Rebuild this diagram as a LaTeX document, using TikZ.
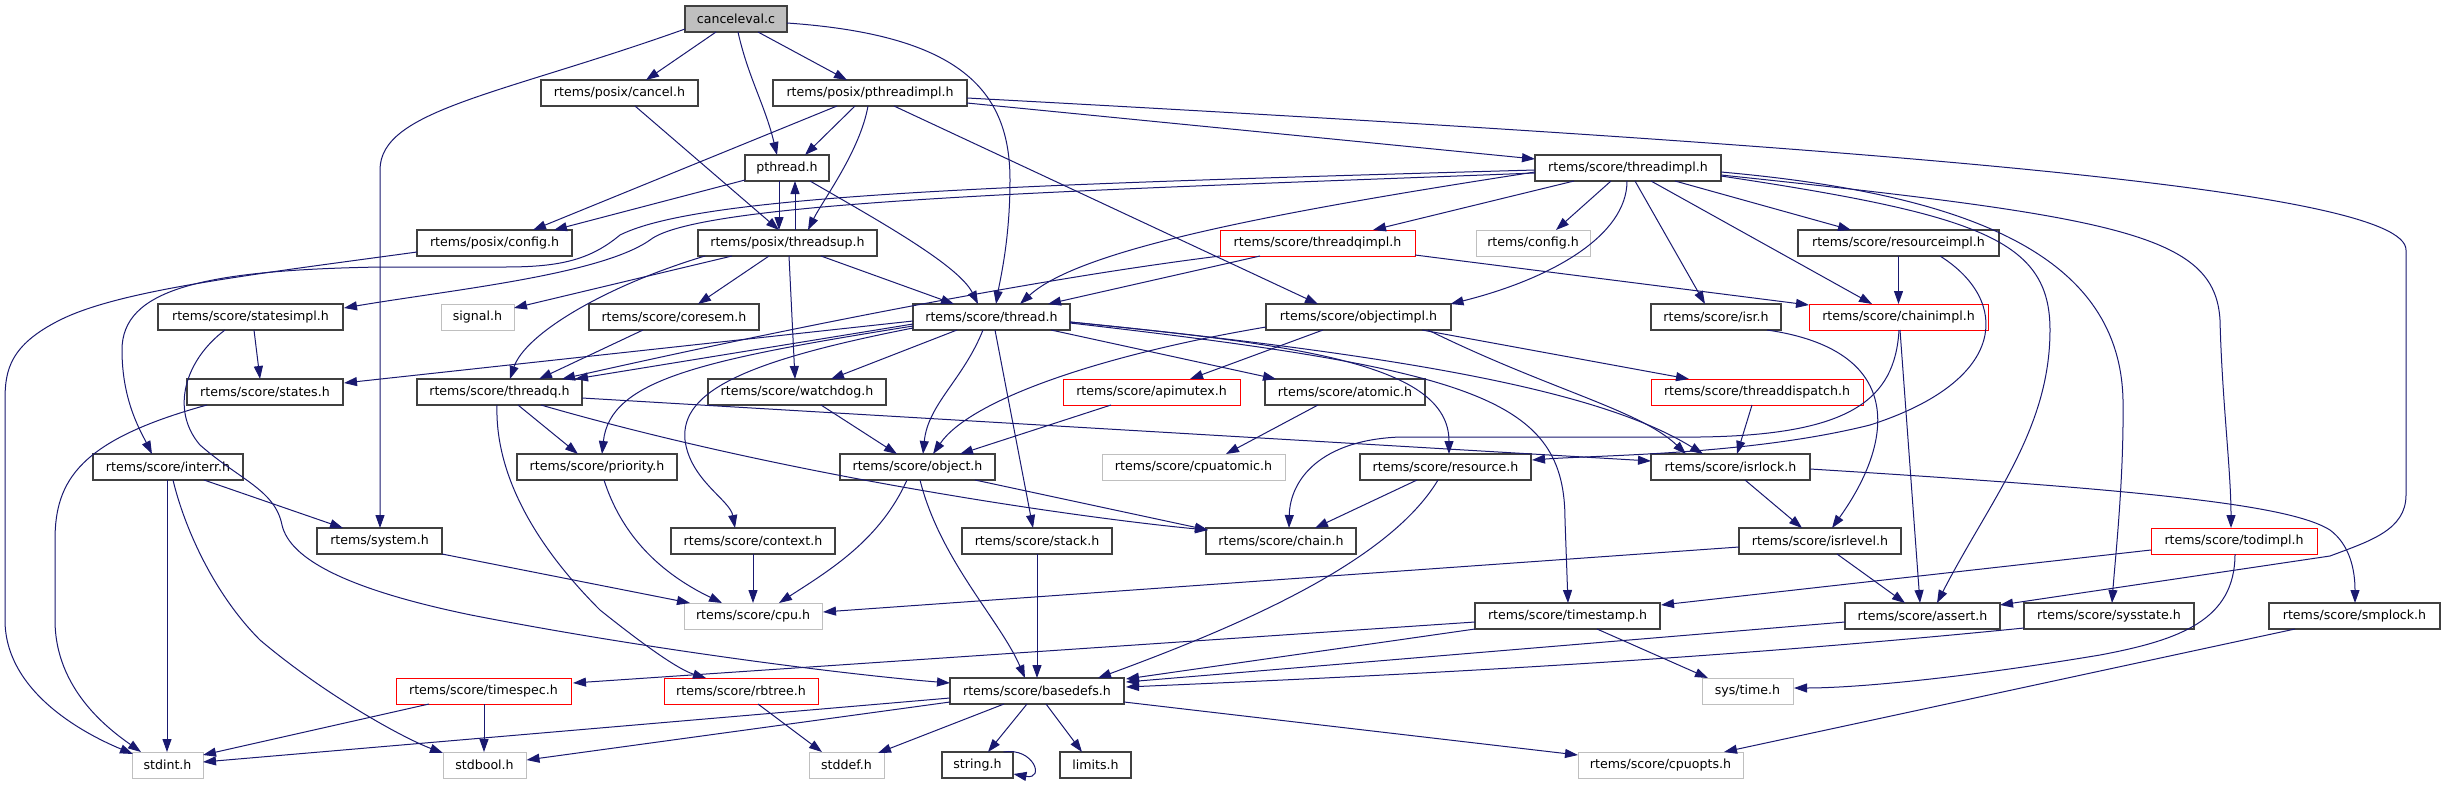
\documentclass[tikz,border=0pt]{standalone}
\usepackage{fontspec}
\setmainfont{DejaVu Sans}
\usetikzlibrary{arrows.meta,calc}
\definecolor{edgec}{HTML}{191970}
\definecolor{bord}{HTML}{404040}
\definecolor{graybd}{HTML}{BFBFBF}
\definecolor{redbd}{HTML}{FF0000}
\begin{document}
\begin{tikzpicture}[x=1pt,y=-1pt,
  font=\fontsize{12.6}{15}\selectfont,
  hdr/.style={draw=bord, line width=1.3pt, fill=white, minimum height=26pt, inner sep=0pt},
  sysh/.style={hdr, draw=graybd, line width=1pt},
  redh/.style={hdr, draw=redbd, line width=1pt},
  root/.style={hdr, fill=graybd},
  e/.style={draw=edgec, line width=1pt, -{Triangle[length=13pt,width=9pt]}}]
\fill[white] (0,0) rectangle (2445,785);
\useasboundingbox (0,0) rectangle (2445,785);
% nodes
\node[root, minimum width=102pt] (canceleval) at (736,19) {canceleval.c};
\node[hdr, minimum width=157pt] (cancel) at (619.5,93) {rtems/posix/cancel.h};
\node[hdr, minimum width=194pt] (pthreadimpl) at (870,93) {rtems/posix/pthreadimpl.h};
\node[hdr, minimum width=84pt] (pthread) at (787,168) {pthread.h};
\node[hdr, minimum width=186pt] (threadimpl) at (1628,168) {rtems/score/threadimpl.h};
\node[hdr, minimum width=155pt] (pconfig) at (494.5,243) {rtems/posix/config.h};
\node[hdr, minimum width=179pt] (threadsup) at (787.5,243) {rtems/posix/threadsup.h};
\node[redh, minimum width=195pt] (threadqimpl) at (1317.5,243) {rtems/score/threadqimpl.h};
\node[sysh, minimum width=114pt] (rconfig) at (1533,243) {rtems/config.h};
\node[hdr, minimum width=201pt] (resourceimpl) at (1898.5,243) {rtems/score/resourceimpl.h};
\node[hdr, minimum width=185pt] (statesimpl) at (250.5,317) {rtems/score/statesimpl.h};
\node[sysh, minimum width=73pt] (signal) at (477.5,317) {signal.h};
\node[hdr, minimum width=170pt] (coresem) at (674,317) {rtems/score/coresem.h};
\node[hdr, minimum width=157pt] (thread) at (991.5,317) {rtems/score/thread.h};
\node[hdr, minimum width=185pt] (objectimpl) at (1358.5,317) {rtems/score/objectimpl.h};
\node[hdr, minimum width=130pt] (isr) at (1716,317) {rtems/score/isr.h};
\node[redh, minimum width=179pt] (chainimpl) at (1898.5,317) {rtems/score/chainimpl.h};
\node[hdr, minimum width=156pt] (states) at (265,392) {rtems/score/states.h};
\node[hdr, minimum width=165pt] (threadq) at (499.5,392) {rtems/score/threadq.h};
\node[hdr, minimum width=178pt] (watchdog) at (797,392) {rtems/score/watchdog.h};
\node[redh, minimum width=177pt] (apimutex) at (1151.5,392) {rtems/score/apimutex.h};
\node[hdr, minimum width=160pt] (atomic) at (1345,392) {rtems/score/atomic.h};
\node[redh, minimum width=212pt] (threaddispatch) at (1757,392) {rtems/score/threaddispatch.h};
\node[hdr, minimum width=150pt] (interr) at (168,467) {rtems/score/interr.h};
\node[hdr, minimum width=160pt] (priority) at (597,467) {rtems/score/priority.h};
\node[hdr, minimum width=155pt] (object) at (917.5,467) {rtems/score/object.h};
\node[sysh, minimum width=183pt] (cpuatomic) at (1193.5,467) {rtems/score/cpuatomic.h};
\node[hdr, minimum width=171pt] (resource) at (1445.5,467) {rtems/score/resource.h};
\node[hdr, minimum width=159pt] (isrlock) at (1730.5,467) {rtems/score/isrlock.h};
\node[hdr, minimum width=125pt] (system) at (379.5,541) {rtems/system.h};
\node[hdr, minimum width=164pt] (context) at (753,541) {rtems/score/context.h};
\node[hdr, minimum width=150pt] (stack) at (1037,541) {rtems/score/stack.h};
\node[hdr, minimum width=150pt] (chain) at (1281,541) {rtems/score/chain.h};
\node[hdr, minimum width=162pt] (isrlevel) at (1820,541) {rtems/score/isrlevel.h};
\node[redh, minimum width=166pt] (todimpl) at (2234,541) {rtems/score/todimpl.h};
\node[sysh, minimum width=138pt] (cpu) at (753,616) {rtems/score/cpu.h};
\node[hdr, minimum width=185pt] (timestamp) at (1567.5,616) {rtems/score/timestamp.h};
\node[hdr, minimum width=155pt] (assert) at (1922.5,616) {rtems/score/assert.h};
\node[hdr, minimum width=170pt] (sysstate) at (2109,616) {rtems/score/sysstate.h};
\node[hdr, minimum width=171pt] (smplock) at (2354.5,616) {rtems/score/smplock.h};
\node[redh, minimum width=175pt] (timespec) at (483.5,691) {rtems/score/timespec.h};
\node[redh, minimum width=154pt] (rbtree) at (741,691) {rtems/score/rbtree.h};
\node[hdr, minimum width=174pt] (basedefs) at (1037,691) {rtems/score/basedefs.h};
\node[sysh, minimum width=91pt] (systime) at (1747.5,691) {sys/time.h};
\node[sysh, minimum width=71pt] (stdint) at (167.5,765) {stdint.h};
\node[sysh, minimum width=83pt] (stdbool) at (484.5,765) {stdbool.h};
\node[sysh, minimum width=75pt] (stddef) at (846.5,765) {stddef.h};
\node[hdr, minimum width=71pt] (string) at (977.5,765) {string.h};
\node[hdr, minimum width=71pt] (limits) at (1095.5,765) {limits.h};
\node[sysh, minimum width=165pt] (cpuopts) at (1660.5,765) {rtems/score/cpuopts.h};
% edges
\draw[e] ($(canceleval)+(-20,13)$) -- ($(cancel)+(26.5,-13)$);
\draw[e] ($(canceleval)+(22,13)$) -- ($(pthreadimpl)+(-23,-13)$);
\draw[e] ($(canceleval)+(2,13)$) .. controls +(10,45) and +(-12,-50) .. ($(pthread)+(-10,-13)$);
\draw[e] ($(canceleval)+(-51,10)$) .. controls +(-185,66) and +(0,-60) .. ($(system)+(0.5,-371)$) -- ($(system)+(0.5,-13)$);
\draw[e] ($(canceleval)+(51,4)$) .. controls +(173,12) and +(0,-90) .. ($(thread)+(18.5,-137)$) .. controls +(0,60) and +(4,-24) .. ($(thread)+(4.5,-13)$);
\draw[e] ($(cancel)+(15.5,13)$) -- ($(threadsup)+(-8.5,-13)$);
\draw[e] ($(pthreadimpl)+(-33,13)$) -- ($(pconfig)+(38.5,-13)$);
\draw[e] ($(pthreadimpl)+(-15,13)$) -- ($(pthread)+(18,-13)$);
\draw[e] ($(pthreadimpl)+(-2,13)$) .. controls +(-8,45) and +(15,-30) .. ($(threadsup)+(20.5,-13)$);
\draw[e] ($(pthreadimpl)+(97,10)$) -- ($(threadimpl)+(-93,-9)$);
\draw[e] ($(pthreadimpl)+(24,13)$) -- ($(objectimpl)+(-40.5,-13)$);
\draw[e] ($(pthreadimpl)+(97,5)$) .. controls +(930,50) and +(0,-60) .. ($(assert)+(483.5,-366)$) -- ($(assert)+(483.5,-121)$) .. controls +(0,35) and +(40,-15) .. ($(assert)+(407.5,-60)$) -- ($(assert)+(77.5,-11)$);
\draw[e] ($(pthread)+(-42,12)$) -- ($(pconfig)+(59.5,-13)$);
\draw[e] ($(pthread)+(-8,13)$) -- ($(threadsup)+(-8.5,-13)$);
\draw[e] ($(threadsup)+(7.5,-13)$) -- ($(pthread)+(8,13)$);
\draw[e] ($(pthread)+(23,13)$) .. controls +(60,35) and +(-20,-40) .. ($(thread)+(-13.5,-13)$);
\draw[e] ($(threadsup)+(33.5,13)$) -- ($(thread)+(-37.5,-13)$);
\draw[e] ($(threadimpl)+(-93,4)$) .. controls +(-260,40) and +(60,-55) .. ($(thread)+(28.5,-13)$);
\draw[e] ($(threadqimpl)+(-57.5,13)$) -- ($(thread)+(56.5,-13)$);
\draw[e] ($(threadsup)+(-55.5,13)$) -- ($(signal)+(36.5,-9)$);
\draw[e] ($(threadsup)+(-18.5,13)$) -- ($(coresem)+(24,-13)$);
\draw[e] ($(threadsup)+(-82.5,13)$) .. controls +(-100,30) and +(15,-45) .. ($(threadq)+(10.5,-13)$);
\draw[e] ($(threadsup)+(1.5,13)$) -- ($(watchdog)+(-2,-13)$);
\draw[e] ($(coresem)+(-31,13)$) -- ($(threadq)+(39.5,-13)$);
\draw[e] ($(threadqimpl)+(-97.5,13)$) .. controls +(-200,25) and +(200,-45) .. ($(threadq)+(62.5,-13)$);
\draw[e] ($(threadqimpl)+(97.5,12)$) -- ($(chainimpl)+(-89.5,-12)$);
\draw[e] ($(threadimpl)+(-54,13)$) -- ($(threadqimpl)+(55.5,-13)$);
\draw[e] ($(threadimpl)+(-17,13)$) -- ($(rconfig)+(23,-13)$);
\draw[e] ($(threadimpl)+(-1,13)$) .. controls +(0,55) and +(100,-25) .. ($(objectimpl)+(92,-13)$);
\draw[e] ($(threadimpl)+(7,13)$) -- ($(isr)+(-11,-13)$);
\draw[e] ($(threadimpl)+(23,13)$) -- ($(chainimpl)+(-26.5,-13)$);
\draw[e] ($(threadimpl)+(47,13)$) -- ($(resourceimpl)+(-47.5,-13)$);
\draw[e] ($(threadimpl)+(93,8)$) .. controls +(259,39) and +(0,-90) .. ($(assert)+(127.5,-286)$) .. controls +(0,100) and +(53,-103) .. ($(assert)+(14.5,-13)$);
\draw[e] ($(threadimpl)+(93,4)$) .. controls +(259,23) and +(-3,-140) .. ($(sysstate)+(14,-216)$) .. controls +(1,80) and +(3,-43) .. ($(sysstate)+(3,-13)$);
\draw[e] ($(threadimpl)+(93,7)$) .. controls +(400,42) and +(-5,-85) .. ($(todimpl)+(-14,-221)$) .. controls +(2,80) and +(0,-58) .. ($(todimpl)+(-3,-13)$);
\draw[e] ($(threadimpl)+(-93,5)$) .. controls +(-435,17) and +(50,-40) .. ($(statesimpl)+(399.5,-77)$) .. controls +(-50,35) and +(106,-18) .. ($(statesimpl)+(93.5,-9)$);
\draw[e] ($(threadimpl)+(-93,2)$) .. controls +(-535,15) and +(80,-40) .. ($(interr)+(452,-232)$) .. controls +(-30,25) and +(55,0) .. ($(interr)+(337,-200)$) -- ($(interr)+(213,-200)$) .. controls +(-181,3) and +(0,-60) .. ($(interr)+(-46,-117)$) .. controls +(0,50) and +(-12,-24) .. ($(interr)+(-16,-13)$);
\draw[e] ($(pconfig)+(-77.5,9)$) .. controls +(-168,23) and +(60,-30) .. ($(stdint)+(-107.5,-445)$) .. controls +(-50,25) and +(0,-30) .. ($(stdint)+(-162.5,-365)$) -- ($(stdint)+(-162.5,-145)$) .. controls +(0,70) and +(-53,-22) .. ($(stdint)+(-34.5,-11)$);
\draw[e] ($(statesimpl)+(3.5,13)$) -- ($(states)+(-5,-13)$);
\draw[e] ($(statesimpl)+(-25.5,13)$) .. controls +(-40,30) and +(-30,-35) .. ($(basedefs)+(-837,-246)$) .. controls +(40,35) and +(-7,-35) .. ($(basedefs)+(-755,-166)$) .. controls +(8,35) and +(-121,-25) .. ($(basedefs)+(-566,-76)$) .. controls +(179,35) and +(-100,-8) .. ($(basedefs)+(-87,-8)$);
\draw[e] ($(states)+(-58,13)$) .. controls +(-127,35) and +(0,-60) .. ($(stdint)+(-112.5,-225)$) -- ($(stdint)+(-112.5,-145)$) .. controls +(0,70) and +(-31,-22) .. ($(stdint)+(-26.5,-13)$);
\draw[e] ($(interr)+(36,13)$) -- ($(system)+(-36.5,-13)$);
\draw[e] ($(interr)+(-1,13)$) -- ($(stdint)+(-0.5,-13)$);
\draw[e] ($(interr)+(5,13)$) .. controls +(12,50) and +(-45,-45) .. ($(stdbool)+(-224.5,-125)$) .. controls +(65,55) and +(-40,-15) .. ($(stdbool)+(-41.5,-12)$);
\draw[e] ($(threadq)+(18.5,13)$) -- ($(priority)+(-19,-13)$);
\draw[e] ($(threadq)+(-2.5,13)$) .. controls +(-2,65) and +(-70,-70) .. ($(rbtree)+(-141,-81)$) .. controls +(50,40) and +(-26,-8) .. ($(rbtree)+(-35,-13)$);
\draw[e] ($(threadq)+(41.5,13)$) .. controls +(259,75) and +(-108,-10) .. ($(chain)+(-73,-11)$);
\draw[e] ($(threadq)+(82.5,6)$) -- ($(isrlock)+(-79.5,-6)$);
\draw[e] ($(thread)+(-34.5,13)$) -- ($(watchdog)+(34,-13)$);
\draw[e] ($(thread)+(-8.5,13)$) .. controls +(-20,50) and +(5,-50) .. ($(object)+(5.5,-13)$);
\draw[e] ($(thread)+(3.5,13)$) -- ($(stack)+(-4,-13)$);
\draw[e] ($(thread)+(59.5,13)$) -- ($(atomic)+(-69,-13)$);
\draw[e] ($(thread)+(78.5,5)$) .. controls +(230,23) and +(0,-90) .. ($(resource)+(3.5,-13)$);
\draw[e] ($(thread)+(78.5,6)$) .. controls +(410,47) and +(0,-120) .. ($(timestamp)+(-2.5,-96)$) -- ($(timestamp)+(0.5,-13)$);
\draw[e] ($(thread)+(78.5,5)$) .. controls +(330,33) and +(-103,-64) .. ($(isrlock)+(-27.5,-13)$);
\draw[e] ($(thread)+(-78.5,11)$) .. controls +(-163,32) and +(-5,-50) .. ($(context)+(-68,-101)$) .. controls +(5,40) and +(-5,-28) .. ($(context)+(-18,-13)$);
\draw[e] ($(thread)+(-78.5,9)$) .. controls +(-213,34) and +(8,-74) .. ($(priority)+(5,-13)$);
\draw[e] ($(thread)+(-78.5,7)$) -- ($(threadq)+(75.5,-13)$);
\draw[e] ($(thread)+(-78.5,4)$) -- ($(states)+(79,-9)$);
\draw[e] ($(objectimpl)+(-92.5,10)$) .. controls +(-166,28) and +(37,-54) .. ($(object)+(15.5,-13)$);
\draw[e] ($(objectimpl)+(-35.5,13)$) -- ($(apimutex)+(38.5,-13)$);
\draw[e] ($(objectimpl)+(63.5,13)$) -- ($(threaddispatch)+(-68,-13)$);
\draw[e] ($(objectimpl)+(69.5,13)$) .. controls +(122,60) and +(-46,-44) .. ($(isrlock)+(-44.5,-13)$);
\draw[e] ($(watchdog)+(24,13)$) -- ($(object)+(-20.5,-13)$);
\draw[e] ($(apimutex)+(-40.5,13)$) -- ($(object)+(42.5,-13)$);
\draw[e] ($(atomic)+(-27,13)$) -- ($(cpuatomic)+(32.5,-13)$);
\draw[e] ($(resourceimpl)+(0,13)$) -- ($(chainimpl)+(0,-13)$);
\draw[e] ($(resourceimpl)+(41.5,13)$) .. controls +(70,44) and +(140,-45) .. ($(resource)+(424.5,-42)$) .. controls +(-120,30) and +(68,-5) .. ($(resource)+(86.5,-7)$);
\draw[e] ($(chainimpl)+(0.5,13)$) .. controls +(-4,70) and +(150,-2) .. ($(chain)+(419,-104)$) -- ($(chain)+(119,-104)$) .. controls +(-80,3) and +(1,-48) .. ($(chain)+(8,-13)$);
\draw[e] ($(chainimpl)+(1.5,13)$) -- ($(assert)+(-2.5,-13)$);
\draw[e] ($(isr)+(51,13)$) .. controls +(138,20) and +(63,-88) .. ($(isrlevel)+(12,-13)$);
\draw[e] ($(threaddispatch)+(-5,13)$) -- ($(isrlock)+(6.5,-13)$);
\draw[e] ($(isrlock)+(14.5,13)$) -- ($(isrlevel)+(-18,-13)$);
\draw[e] ($(isrlock)+(79.5,2)$) .. controls +(340,21) and +(-40,-25) .. ($(smplock)+(-24.5,-86)$) .. controls +(20,15) and +(0,-33) .. ($(smplock)+(0.5,-13)$);
\draw[e] ($(isrlevel)+(-81,6)$) -- ($(cpu)+(70,-4)$);
\draw[e] ($(isrlevel)+(17,13)$) -- ($(assert)+(-17.5,-13)$);
\draw[e] ($(todimpl)+(-83,9)$) -- ($(timestamp)+(93.5,-11)$);
\draw[e] ($(todimpl)+(1,13)$) .. controls +(0,66) and +(80,-15) .. ($(systime)+(352.5,-36)$) .. controls +(-150,25) and +(56,0) .. ($(systime)+(46.5,-3)$);
\draw[e] ($(timestamp)+(-92.5,6)$) -- ($(timespec)+(89.5,-8)$);
\draw[e] ($(timestamp)+(-92.5,13)$) -- ($(basedefs)+(89,-12)$);
\draw[e] ($(timestamp)+(29.5,13)$) -- ($(systime)+(-39.5,-13)$);
\draw[e] ($(assert)+(-77.5,6)$) -- ($(basedefs)+(89,-9)$);
\draw[e] ($(sysstate)+(-85,12)$) .. controls +(-320,32) and +(280,-12) .. ($(basedefs)+(89,-4)$);
\draw[e] ($(smplock)+(-59.5,13)$) -- ($(cpuopts)+(63.5,-13)$);
\draw[e] ($(basedefs)+(-87,7)$) -- ($(stdint)+(35.5,-3)$);
\draw[e] ($(basedefs)+(-87,11)$) -- ($(stdbool)+(42,-5)$);
\draw[e] ($(basedefs)+(-33,13)$) -- ($(stddef)+(31.5,-12)$);
\draw[e] ($(basedefs)+(-10,13)$) -- ($(string)+(10.5,-13)$);
\draw[e] ($(basedefs)+(9,13)$) -- ($(limits)+(-13.5,-13)$);
\draw[e] ($(basedefs)+(87,11)$) -- ($(cpuopts)+(-82.5,-10)$);
\draw[e] ($(string)+(26,-13)$) .. controls +(30,-5) and +(32,6) .. ($(string)+(36,9)$);
\draw[e] ($(rbtree)+(17,13)$) -- ($(stddef)+(-24.5,-13)$);
\draw[e] ($(timespec)+(-54.5,13)$) -- ($(stdint)+(35.5,-10)$);
\draw[e] ($(timespec)+(0.5,13)$) -- ($(stdbool)+(-0.5,-13)$);
\draw[e] ($(system)+(62.5,13)$) -- ($(cpu)+(-63,-13)$);
\draw[e] ($(context)+(0,13)$) -- ($(cpu)+(0,-13)$);
\draw[e] ($(priority)+(7,13)$) .. controls +(16,50) and +(-68,-33) .. ($(cpu)+(-31,-13)$);
\draw[e] ($(object)+(-10.5,13)$) .. controls +(-27,60) and +(51,-33) .. ($(cpu)+(26,-13)$);
\draw[e] ($(object)+(2.5,13)$) .. controls +(20,80) and +(-25,-58) .. ($(basedefs)+(-12,-13)$);
\draw[e] ($(object)+(57.5,13)$) -- ($(chain)+(-73,-11)$);
\draw[e] ($(stack)+(0,13)$) -- ($(basedefs)+(0,-13)$);
\draw[e] ($(resource)+(-7.5,13)$) .. controls +(-48,80) and +(150,-55) .. ($(basedefs)+(61,-13)$);
\draw[e] ($(resource)+(-28.5,13)$) -- ($(chain)+(34,-13)$);
\end{tikzpicture}
\end{document}
